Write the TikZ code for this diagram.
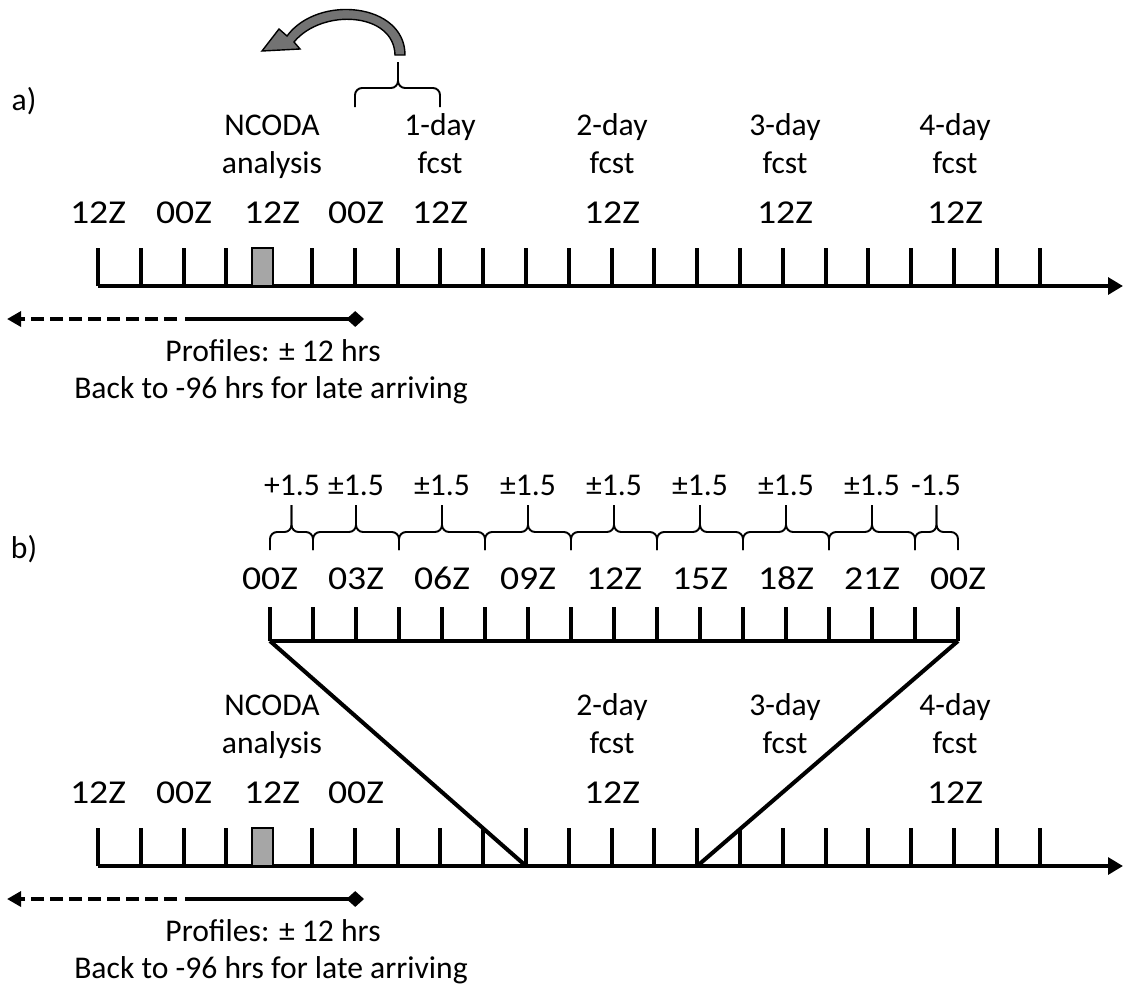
\documentclass[tikz,border=0pt]{standalone}
\usepackage{fontspec}
\setmainfont{Carlito}
\newfontfamily\widefont[FakeStretch=1.13]{Carlito}
\usetikzlibrary{arrows.meta}

\tikzset{
  lbl/.style={font=\fontsize{18}{21}\selectfont, inner sep=0pt, anchor=base},
  hrlbl/.style={lbl, font=\widefont\fontsize{19}{22}\selectfont},
  tickmark/.style={line width=2.2pt},
  timeline/.style={line width=2.6pt},
  slant/.style={line width=2.3pt},
  brc/.style={line width=1.1pt, rounded corners=4pt},
  profline/.style={line width=2.5pt},
  gbox/.style={draw, line width=1.2pt, fill=gray!70, minimum width=0.42cm, minimum height=0.76cm, inner sep=0pt, anchor=center}
}

\begin{document}
\begin{tikzpicture}[x=0.02cm, y=-0.02cm]
  \useasboundingbox (0,0) rectangle (1125,987);

  % common part of both time lines
  \foreach \dy/\p in {0/a, 580/b} {
    \begin{scope}[shift={(0,\dy)}]
      \foreach \k in {0,...,22} {
        \coordinate (tk\p\k) at (98+42.8*\k,286);
        \draw[tickmark] (tk\p\k) -- ++(0,-38);
      }
      \coordinate (end\p) at (1123,286);
      \draw[timeline, -{Triangle[length=8.5pt, width=9.5pt]}] (tk\p0) -- (end\p);
      \node[gbox] (box\p) at (262.5,267) {};

      \coordinate (left\p) at (7,319);
      \coordinate (dsh\p) at (177,319);
      \coordinate (sol\p) at (185,319);
      \coordinate (right\p) at (364,319);
      \draw[profline, dash pattern=on 7.5pt off 3.3pt, -{Triangle[length=8pt, width=8.5pt]}] (dsh\p) -- (left\p);
      \draw[profline, -{Diamond[length=10pt, width=9pt]}] (sol\p) -- (right\p);
      \node[lbl] (prof\p) at (273,361.7) {Profiles: ± 12 hrs};
      \node[lbl] (back\p) at (271,398.3) {Back to -96 hrs for late arriving};

      \node[lbl] (ncoda\p) at (272,135) {NCODA};
      \node[lbl] (anl\p) at (272,173) {analysis};
      \node[lbl] (dtwo\p) at (612,135) {2-day};
      \node[lbl] (ftwo\p) at (612,173) {fcst};
      \node[lbl] (dthree\p) at (785,135) {3-day};
      \node[lbl] (fthree\p) at (785,173) {fcst};
      \node[lbl] (dfour\p) at (955,135) {4-day};
      \node[lbl] (ffour\p) at (955,173) {fcst};
      \foreach \x/\t [count=\i] in {98/12Z, 184/00Z, 272/12Z, 356/00Z, 612/12Z, 955/12Z}
        \node[hrlbl] (hr\p\i) at (\x,223.3) {\t};
    \end{scope}
  }

  % panel a
  \node[lbl] (pa) at (24,110) {a)};
  \node[lbl] (done) at (440,135) {1-day};
  \node[lbl] (fone) at (440,173) {fcst};
  \node[hrlbl] (hra7) at (440,223.3) {12Z};
  \node[hrlbl] (hra8) at (785,223.3) {12Z};
  \draw[brc] (355,107) -- (355,88) -- (398,88) -- (398,62);
  \draw[brc] (440,107) -- (440,88) -- (398,88) -- (398,62);
  \filldraw[fill=black!55, draw=black, line width=0.8pt]
    (405,55) .. controls (405,3) and (318,-6) .. (287,36)
    -- (279,29) -- (262,51) -- (300,49) -- (294,42)
    .. controls (322,8) and (394,12) .. (395,55) -- cycle;

  % panel b
  \node[lbl] (pb) at (24,558) {b)};
  \foreach \k in {0,...,16} {
    \coordinate (up\k) at (270+43*\k,641);
    \draw[tickmark] (up\k) -- ++(0,-34);
  }
  \draw[timeline] (up0) -- (up16);
  \draw[slant] (up0) -- (tkb10);
  \draw[slant] (up16) -- (tkb14);
  \foreach \k/\t in {0/00Z, 2/03Z, 4/06Z, 6/09Z, 8/12Z, 10/15Z, 12/18Z, 14/21Z, 16/00Z}
    \node[hrlbl] (hrb\k) at (270+43*\k,589) {\t};
  \foreach \xa/\xb in {270/313, 313/399, 399/485, 485/571, 571/657, 657/743, 743/829, 829/915, 915/958} {
    \draw[brc] (\xa,550) -- (\xa,532) -- ({(\xa+\xb)/2},532) -- ({(\xa+\xb)/2},505);
    \draw[brc] (\xb,550) -- (\xb,532) -- ({(\xa+\xb)/2},532) -- ({(\xa+\xb)/2},505);
  }
  \node[lbl] (inc0) at (292,495) {+1.5};
  \foreach \x [count=\i] in {356,442,528,614,700,786,872}
    \node[lbl] (inc\i) at (\x,495) {±1.5};
  \node[lbl] (inc8) at (936,495) {-1.5};
\end{tikzpicture}
\end{document}
